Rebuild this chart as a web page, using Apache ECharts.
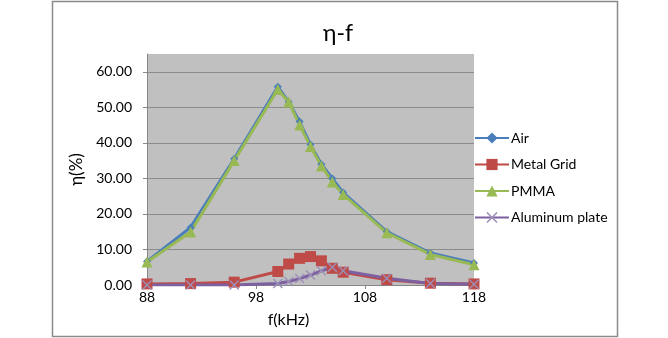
<!DOCTYPE html>
<html>
<head>
<meta charset="utf-8">
<script src="https://cdn.jsdelivr.net/npm/echarts@6/dist/echarts.min.js"></script>
<style>html,body{margin:0;padding:0;background:#fff;}#c{width:668px;height:338px;}</style>
</head>
<body>
<div id="c"></div>
<script>
var freq = [88, 92, 96, 100, 101, 102, 103, 104, 105, 106, 110, 114, 118];
var air = [6.6, 16.2, 35.5, 55.8, 51.5, 46.0, 39.5, 34.0, 30.0, 26.0, 15.0, 9.0, 6.2];
var metalGrid = [0.3, 0.4, 0.8, 3.8, 5.9, 7.5, 8.0, 6.8, 4.7, 3.6, 1.5, 0.5, 0.3];
var pmma = [6.5, 14.9, 35.0, 55.0, 51.5, 45.0, 39.0, 33.5, 29.0, 25.5, 14.7, 8.6, 5.7];
var aluminum = [0.0, 0.0, 0.0, 0.4, 1.0, 1.8, 2.8, 4.0, 5.0, 4.0, 1.9, 0.4, 0.2];
var seriesNames = ['Air', 'Metal Grid', 'PMMA', 'Aluminum plate'];

function pairs(ys){ return freq.map(function(f,i){ return [f, ys[i]]; }); }
var font = 'Lato, "Liberation Sans", sans-serif';
var xSym = 'path://M0,1 L1,0 L5,4 L9,0 L10,1 L6,5 L10,9 L9,10 L5,6 L1,10 L0,9 L4,5 Z';

var chart = echarts.init(document.getElementById('c'), null, {renderer:'canvas'});
chart.setOption({
  animation: false,
  backgroundColor: '#fff',
  title: { text: 'η-f', left: 333, top: 17, textAlign: 'center',
    textStyle: { fontFamily: font, fontSize: 23, fontWeight: 'normal', color: '#000' } },
  graphic: [{ type: 'rect', shape: { x: 52.5, y: 1.5, width: 565, height: 335 },
    style: { fill: 'none', stroke: '#8a8a8a', lineWidth: 1.5 }, z: -1 }],
  grid: { left: 147, right: 194, top: 54, bottom: 53, show: true, backgroundColor: '#c0c0c0', borderWidth: 0 },
  legend: { orient: 'vertical', left: 469, top: 126, itemWidth: 34, itemHeight: 14, itemGap: 12.5,
    data: seriesNames, textStyle: { fontFamily: font, fontSize: 14, color: '#000', padding: [0,0,0,-3] } },
  xAxis: { type: 'value', min: 88, max: 118, interval: 10,
    name: 'f(kHz)', nameLocation: 'middle', nameGap: 27,
    nameTextStyle: { fontFamily: font, fontSize: 16, color: '#000', padding: [0, 44, 0, 0] },
    axisLine: { lineStyle: { color: '#868686', width: 1 } },
    axisTick: { show: true, length: 4, lineStyle: { color: '#868686' } },
    axisLabel: { fontFamily: font, fontSize: 14, color: '#000', margin: 5 },
    splitLine: { show: false } },
  yAxis: { type: 'value', min: 0, max: 65, interval: 10,
    name: 'η(%)', nameLocation: 'middle', nameGap: 62, nameRotate: 90,
    nameTextStyle: { fontFamily: font, fontSize: 17, color: '#000' },
    axisLine: { show: true, lineStyle: { color: '#868686', width: 1 } },
    axisTick: { show: true, length: 4, lineStyle: { color: '#868686' } },
    axisLabel: { fontFamily: font, fontSize: 14, color: '#000', margin: 15, showMaxLabel: false,
      formatter: function(v){ return v > 60 ? '' : v.toFixed(2); } },
    splitLine: { show: true, showMaxLine: false, lineStyle: { color: '#8c8c8c', width: 1 } } },
  series: [
    { name: 'Air', type: 'line', data: pairs(air), symbol: 'diamond', symbolSize: 8,
      lineStyle: { width: 3, color: '#4a7ebb' }, itemStyle: { color: '#4a7ebb' } },
    { name: 'Metal Grid', type: 'line', data: pairs(metalGrid), symbol: 'rect', symbolSize: 11,
      lineStyle: { width: 3, color: '#be4b48' }, itemStyle: { color: '#be4b48' } },
    { name: 'PMMA', type: 'line', data: pairs(pmma), symbol: 'triangle', symbolSize: 11,
      lineStyle: { width: 3, color: '#98b954' }, itemStyle: { color: '#98b954' } },
    { name: 'Aluminum plate', type: 'line', data: pairs(aluminum), symbol: xSym, symbolSize: 10,
      lineStyle: { width: 3, color: '#7d60a0' }, itemStyle: { color: '#9c8fb8' } }
  ]
});
</script>
</body>
</html>
